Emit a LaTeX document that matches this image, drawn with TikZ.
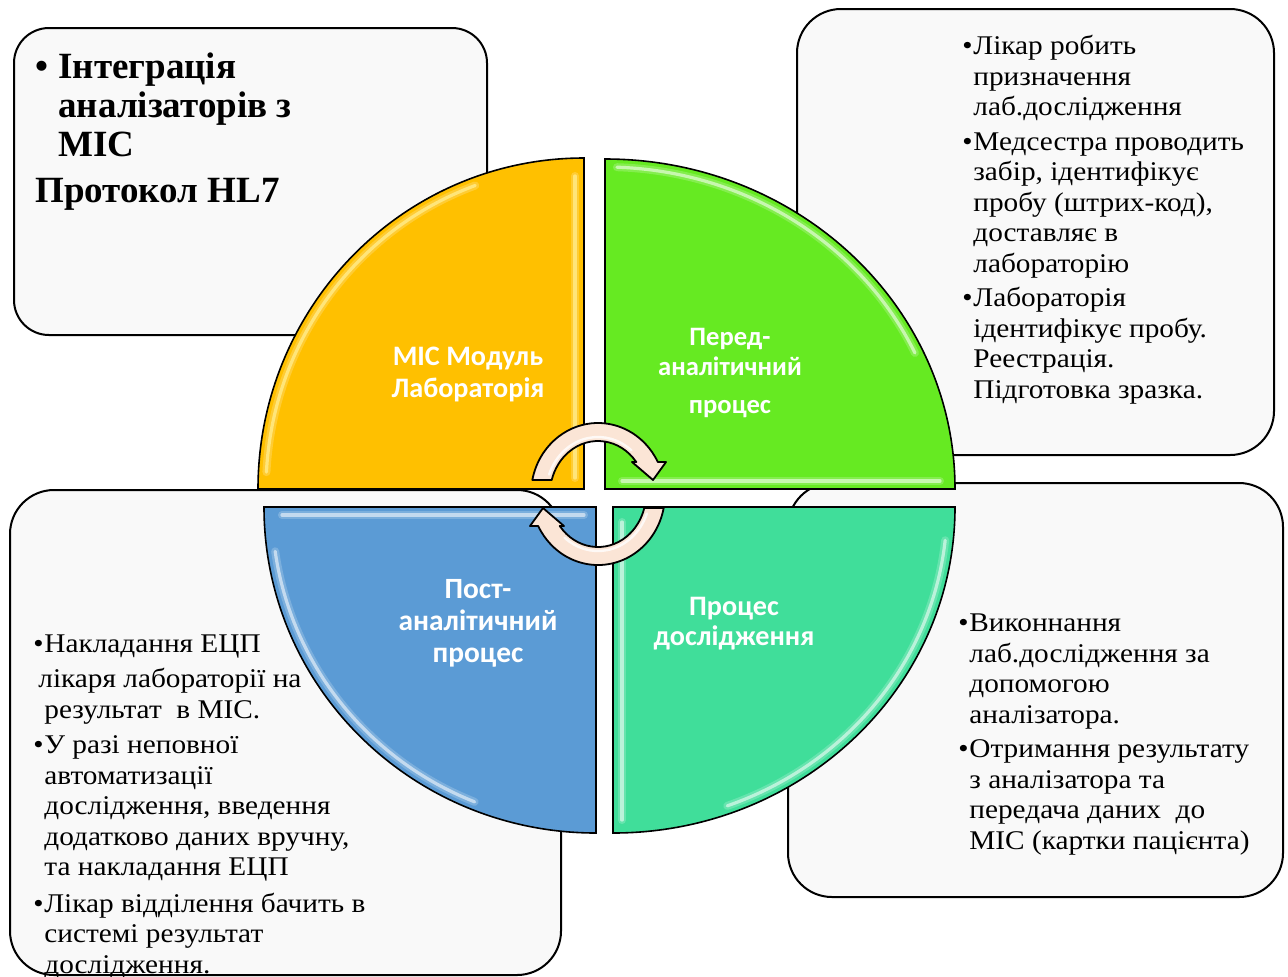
\documentclass[tikz,border=0pt]{standalone}
\usepackage{fontspec}
\setmainfont{Liberation Serif}
\newfontfamily\bodyfont{Liberation Serif}[FakeStretch=1.085]
\newfontfamily\lblfont{Carlito}
\usetikzlibrary{calc}
\definecolor{qyellow}{HTML}{FFC000}
\definecolor{qgreen}{HTML}{66EA22}
\definecolor{qblue}{HTML}{5B9BD5}
\definecolor{qteal}{HTML}{40DE9A}
\definecolor{arrowfill}{HTML}{FBE5D6}
\definecolor{boxfill}{HTML}{F9F9F9}
\newcommand\bl{\makebox[5.5pt][l]{•}}
\newcommand\ind{\hspace*{5.5pt}}
\begin{document}
\begin{tikzpicture}[x=0.5pt,y=-0.5pt,
  infobox/.style={draw=black, fill=boxfill, line width=1pt},
  quad/.style={draw=black, line width=0.8pt},
  gloss/.style={white, line width=1.6pt, opacity=0.55, line cap=round},
  glosswide/.style={white, line width=4pt, opacity=0.2, line cap=round},
  txt/.style={inner sep=0pt, align=left, font=\bodyfont\fontsize{13.5}{15.25}\selectfont},
  lbl/.style={inner sep=0pt, align=center, text=white},
  arrowshape/.style={draw=black, fill=arrowfill, line width=0.9pt, line join=round}]
\clip (0,0) rectangle (1288,976);
\fill[white] (0,0) rectangle (1288,976);

% info boxes
\draw[infobox, rounded corners=17.5pt] (14,28) rectangle (487,335);
\draw[infobox, rounded corners=22pt] (797,9) rectangle (1274,455);
\draw[infobox, rounded corners=22pt] (788,483) rectangle (1283,897);
\draw[infobox, rounded corners=22pt] (10,490) rectangle (561,975);

% quadrants
% yellow
\fill[qyellow] (584,489) -- (258,489) arc[start angle=180,end angle=270,x radius=326,y radius=331] -- cycle;
\draw[glosswide] (575,176) -- (575,478);
\draw[gloss, yellow!30] (575,176) -- (575,478);
\draw[glosswide] ($(584,489)+(183:318 and 323)$) arc[start angle=183,end angle=250,x radius=318,y radius=323];
\draw[gloss, yellow!30] ($(584,489)+(183:318 and 323)$) arc[start angle=183,end angle=250,x radius=318,y radius=323];
\draw[quad] (584,489) -- (258,489) arc[start angle=180,end angle=270,x radius=326,y radius=331] -- cycle;
% green
\fill[qgreen] (605,489) -- (605,159) arc[start angle=270,end angle=360,x radius=350,y radius=330] -- cycle;
\draw[glosswide] ($(605,489)+(272:342 and 322)$) arc[start angle=272,end angle=335,x radius=342,y radius=322];
\draw[gloss] ($(605,489)+(272:342 and 322)$) arc[start angle=272,end angle=335,x radius=342,y radius=322];
\draw[glosswide] (622,481) -- (940,481);
\draw[gloss] (622,481) -- (940,481);
\draw[quad] (605,489) -- (605,159) arc[start angle=270,end angle=360,x radius=350,y radius=330] -- cycle;
% blue
\fill[qblue] (596,507) -- (264,507) arc[start angle=180,end angle=90,x radius=332,y radius=326] -- cycle;
\draw[glosswide] (282,515) -- (584,515);
\draw[gloss] (282,515) -- (584,515);
\draw[glosswide] ($(596,507)+(172:324 and 318)$) arc[start angle=172,end angle=112,x radius=324,y radius=318];
\draw[gloss] ($(596,507)+(172:324 and 318)$) arc[start angle=172,end angle=112,x radius=324,y radius=318];
\draw[quad] (596,507) -- (264,507) arc[start angle=180,end angle=90,x radius=332,y radius=326] -- cycle;
% teal
\fill[qteal] (613,507) -- (613,833) arc[start angle=90,end angle=0,x radius=342,y radius=326] -- cycle;
\draw[glosswide] (622,522) -- (622,820);
\draw[gloss] (622,522) -- (622,820);
\draw[glosswide] ($(613,507)+(6:334 and 318)$) arc[start angle=6,end angle=70,x radius=334,y radius=318];
\draw[gloss] ($(613,507)+(6:334 and 318)$) arc[start angle=6,end angle=70,x radius=334,y radius=318];
\draw[quad] (613,507) -- (613,833) arc[start angle=90,end angle=0,x radius=342,y radius=326] -- cycle;

% circular arrows
\begin{scope}[shift={(598,494)}, yscale=-1]
  \draw[arrowshape] (168.6:67 and 71) arc[start angle=168.6,end angle=26.8,x radius=67,y radius=71]
    -- (68,32) -- (55,14) -- (34,32) -- (37.1:48 and 53)
    arc[start angle=37.1,end angle=164.7,x radius=48,y radius=53] -- cycle;
  \draw[white, line width=1.2pt, opacity=0.8, line cap=round] (160:52 and 57) arc[start angle=160,end angle=50,x radius=52,y radius=57];
\end{scope}
\begin{scope}[shift={(598,494)}, yscale=-1, rotate=180]
  \draw[arrowshape] (168.6:67 and 71) arc[start angle=168.6,end angle=26.8,x radius=67,y radius=71]
    -- (68,32) -- (55,14) -- (34,32) -- (37.1:48 and 53)
    arc[start angle=37.1,end angle=164.7,x radius=48,y radius=53] -- cycle;
  \draw[white, line width=1.2pt, opacity=0.8, line cap=round] (160:52 and 57) arc[start angle=160,end angle=50,x radius=52,y radius=57];
\end{scope}

% quadrant labels (anchor = baseline of last line)
\node[lbl, anchor=base, font=\lblfont\bfseries\fontsize{14.1}{16}\selectfont] (lab) at (468,397) {МІС Модуль\\Лабораторія};
\node[lbl, anchor=base, font=\lblfont\bfseries\fontsize{13.3}{15}\selectfont] (pre) at (730,413) {Перед-\\аналітичний\\[4pt]процес};
\node[lbl, anchor=base, font=\lblfont\bfseries\fontsize{14.7}{16}\selectfont] (post) at (478,662) {Пост-\\аналітичний\\процес};
\node[lbl, anchor=base, font=\lblfont\bfseries\fontsize{14.1}{15}\selectfont] (proc) at (734,645) {Процес\\дослідження};

% box texts (anchor = baseline of last line)
\node[inner sep=0pt, align=left, anchor=base west, font=\bfseries\fontsize{18.5}{19.5}\selectfont] (title) at (35,202)
  {\makebox[11.5pt][l]{•}Інтеграція\\\hspace*{11.5pt}аналізаторів з\\\hspace*{11.5pt}МІС\\[3.5pt]Протокол HL7};

\node[txt, anchor=base west] (pretext) at (962,398)
  {\bl Лікар робить\\\ind призначення\\\ind лаб.дослідження\\[2pt]
   \bl Медсестра проводить\\\ind забір, ідентифікує\\\ind пробу (штрих-код),\\\ind доставляє в\\\ind лабораторію\\[2pt]
   \bl Лабораторія\\\ind ідентифікує пробу.\\\ind Реестрація.\\\ind Підготовка зразка.};

\node[txt, anchor=base west] (proctext) at (958,849)
  {\bl Виконнання\\\ind лаб.дослідження за\\\ind допомогою\\\ind аналізатора.\\[2pt]
   \bl Отримання результату\\\ind з аналізатора та\\\ind передача даних\ \ до\\\ind МІС (картки пацієнта)};

\node[txt, anchor=base west] (posttext) at (33,973)
  {\bl Накладання ЕЦП\\[2.5pt]\hspace*{2.5pt}лікаря лабораторії на\\\ind результат\ \ в МІС.\\[2.5pt]
   \bl У разі неповної\\\ind автоматизації\\\ind дослідження, введення\\\ind додатково даних вручну,\\\ind та накладання ЕЦП\\[3pt]
   \bl Лікар відділення бачить в\\\ind системі результат\\\ind дослідження.};
\end{tikzpicture}
\end{document}
